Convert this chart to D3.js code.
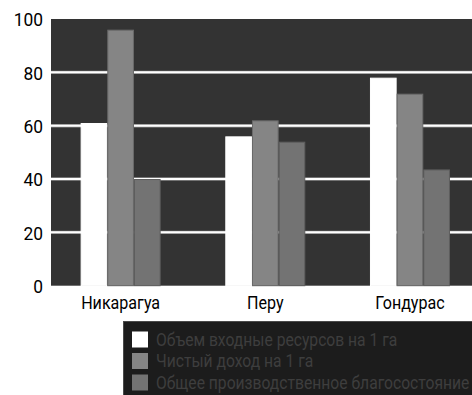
<!DOCTYPE html>
<html><head><meta charset="utf-8">
<script src="https://cdn.jsdelivr.net/npm/d3@7"></script>
<style>
html,body{margin:0;padding:0;background:#fff;}
svg{display:block;}
text{font-family:Roboto,"DejaVu Sans Condensed",sans-serif;}
</style></head>
<body>
<svg id="chart" width="472" height="395"></svg>
<script>
const categories = ["Никарагуа", "Перу", "Гондурас"];
const seriesNames = ["Объем входные ресурсов на 1 га", "Чистый доход на 1 га", "Общее производственное благосостояние"];
const inputs = [61, 56, 78];
const income = [96, 62, 72];
const welfare = [40, 54, 43.6];
const yTicks = [0, 20, 40, 60, 80, 100];

const series = [inputs, income, welfare];
const colors = ["#ffffff", "#858585", "#737373"];
const strokes = ["#ffffff", "#6a6a6a", "#5e5e5e"];
const condense = 0.87;

const svg = d3.select("#chart");
const plot = {left: 51, top: 19, right: 472, bottom: 285.7};

const y = d3.scaleLinear().domain([0, 100]).range([plot.bottom, plot.top]);
const x0 = d3.scaleBand().domain(categories).range([48.3, 482.3]).paddingInner(0.447).paddingOuter(0.2235);
const x1 = d3.scaleBand().domain(d3.range(series.length)).range([0, x0.bandwidth()]);

svg.append("rect").attr("x", plot.left).attr("y", plot.top)
  .attr("width", plot.right - plot.left).attr("height", plot.bottom - plot.top)
  .attr("fill", "#333333");

// gridlines
const grid = svg.append("g");
yTicks.filter(t => t > 0 && t < 100).forEach(t => {
  grid.append("line").attr("x1", plot.left).attr("x2", plot.right)
    .attr("y1", y(t)).attr("y2", y(t)).attr("stroke", "#8a8a8a").attr("stroke-width", 3.4);
  grid.append("line").attr("x1", plot.left).attr("x2", plot.right)
    .attr("y1", y(t)).attr("y2", y(t)).attr("stroke", "#ffffff").attr("stroke-width", 2);
});

// bars
const bars = svg.append("g");
categories.forEach((c, ci) => {
  series.forEach((s, si) => {
    const v = s[ci];
    bars.append("rect")
      .attr("x", x0(c) + x1(si) + 0.5)
      .attr("y", y(v) + 0.5)
      .attr("width", x1.bandwidth() - 1)
      .attr("height", plot.bottom - y(v) - 0.5)
      .attr("fill", colors[si])
      .attr("stroke", strokes[si]).attr("stroke-width", 1);
  });
});

// y axis labels
const yAxis = d3.axisLeft(y).tickValues(yTicks).tickSize(0).tickPadding(8);
const ya = svg.append("g").attr("transform", `translate(${plot.left},0)`).call(yAxis);
ya.select(".domain").remove();
ya.selectAll("text").attr("font-size", 18.5).attr("fill", "#000")
  .style("font-family", 'Roboto,sans-serif')
  .attr("x", null).attr("dy", "0.36em")
  .attr("transform", `translate(-8,0) scale(0.94,1)`);

// x axis labels
const xAxis = d3.axisBottom(x0).tickSize(0).tickPadding(10);
const xa = svg.append("g").attr("transform", `translate(0,${plot.bottom})`).call(xAxis);
xa.select(".domain").remove();
xa.selectAll("text").attr("font-size", 18.5).attr("fill", "#000")
  .style("font-family", 'Roboto,sans-serif')
  .attr("y", null).attr("dy", "1.25em")
  .attr("transform", `scale(${condense},1)`)
  .attr("x", function() { return 0; });

// legend
const lg = svg.append("g");
lg.append("rect").attr("x", 123.5).attr("y", 321.5).attr("width", 360).attr("height", 90)
  .attr("fill", "#1c1c1c").attr("stroke", "#4a4a4a");
seriesNames.forEach((n, i) => {
  const cy = 339.5 + i * 21.5;
  lg.append("rect").attr("x", 132).attr("y", cy - 8).attr("width", 16).attr("height", 16)
    .attr("fill", colors[i]);
  lg.append("text").attr("x", 0).attr("y", cy + 6.4).attr("font-size", 18)
    .attr("transform", `translate(156,0) scale(${condense},1)`)
    .attr("fill", "#3e3e3e").text(n);
});
</script>
</body></html>
